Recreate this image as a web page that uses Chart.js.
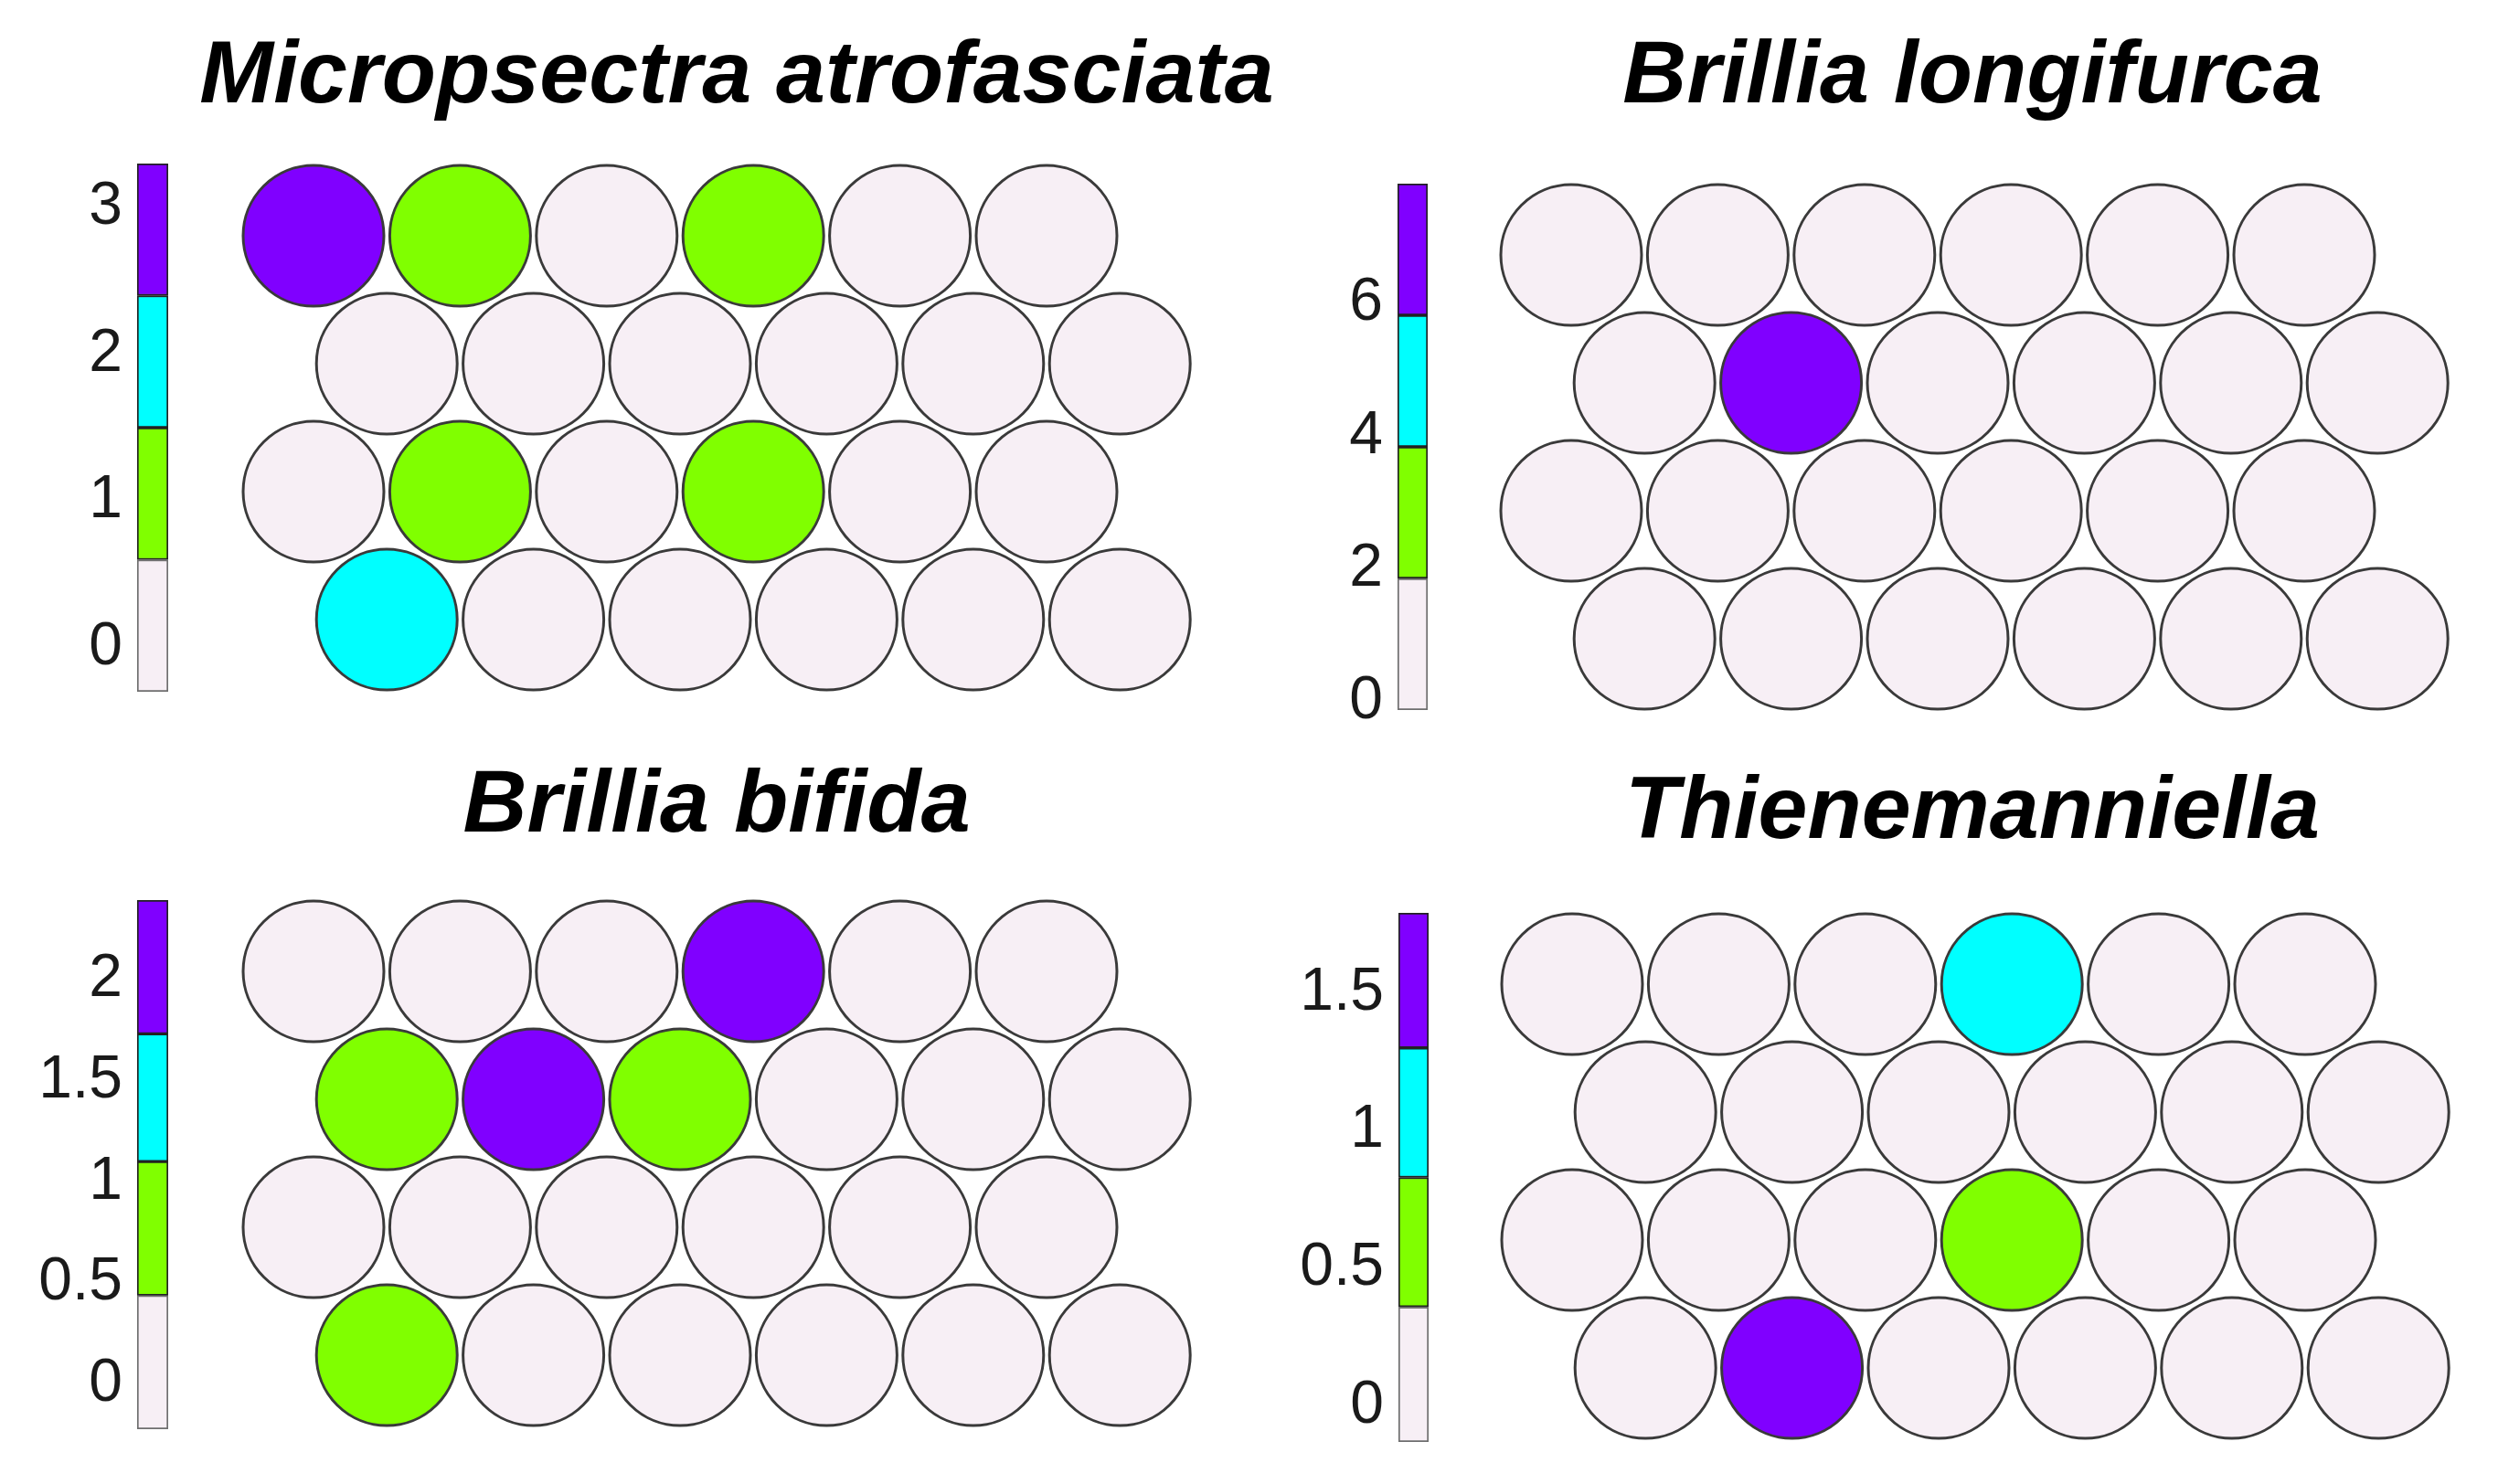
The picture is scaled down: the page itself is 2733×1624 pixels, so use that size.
<!DOCTYPE html>
<html>
<head>
<meta charset="utf-8">
<title>SOM hit maps</title>
<script src="https://cdn.jsdelivr.net/npm/chart.js@4.4.1/dist/chart.umd.min.js"></script>
<style>
  html, body { margin: 0; padding: 0; background: #ffffff; }
  #page { position: relative; width: 2733px; height: 1624px; overflow: hidden; background: #ffffff; }
  #page canvas { position: absolute; }
</style>
</head>
<body>
<div id="page"></div>
<script>
// species shown in the four panels
const categories = ['Micropsectra atrofasciata', 'Brillia longifurca', 'Brillia bifida', 'Thienemanniella'];

// hits per SOM unit, 6 columns x 4 rows, read row by row from the top
const atrofasciata    = [3, 1, 0, 1, 0, 0,   0, 0, 0, 0, 0, 0,   0, 1, 0, 1, 0, 0,   2, 0, 0, 0, 0, 0];
const longifurca      = [0, 0, 0, 0, 0, 0,   0, 7, 0, 0, 0, 0,   0, 0, 0, 0, 0, 0,   0, 0, 0, 0, 0, 0];
const bifida          = [0, 0, 0, 2, 0, 0,   1, 2, 1, 0, 0, 0,   0, 0, 0, 0, 0, 0,   1, 0, 0, 0, 0, 0];
const thienemanniella = [0, 0, 0, 1, 0, 0,   0, 0, 0, 0, 0, 0,   0, 0, 0, 0.5, 0, 0, 0, 1.5, 0, 0, 0, 0];

// colorbar limits and class edges (bottom to top)
const edgesAtro   = [-0.3, 0.6, 1.5, 2.4, 3.3];
const edgesLongi  = [-0.12, 1.86, 3.84, 5.82, 7.8];
const edgesBifida = [-0.22, 0.44, 1.1, 1.73, 2.39];
const edgesThien  = [-0.13, 0.36, 0.83, 1.3, 1.79];

// colorbar tick labels
const ticksAtro   = [0, 1, 2, 3];
const ticksLongi  = [0, 2, 4, 6];
const ticksBifida = [0, 0.5, 1, 1.5, 2];
const ticksThien  = [0, 0.5, 1, 1.5];

const classColors = ['#f7eff5', '#80ff00', '#00ffff', '#8000ff'];

const COLS = 6;
const DX = 160.4, DY = 140;          // px per unit on the map
const RADIUS = 77;
const TITLE_SIZE = 97;
const TITLE_SHIFT = 8;               // canvas 'middle' sits a bit above the cap centre
const TICK_SIZE = 66;
const AXIS_W = 112;
const BAR_PAD = 50;

const page = document.getElementById('page');

function makeCanvas(left, top, w, h) {
  const c = document.createElement('canvas');
  c.width = w; c.height = h;
  c.style.left = left + 'px'; c.style.top = top + 'px';
  c.style.width = w + 'px'; c.style.height = h + 'px';
  page.appendChild(c);
  return c;
}

function classOf(v, edges) {
  for (let i = 1; i < edges.length - 1; i++) {
    if (v < edges[i]) return i - 1;
  }
  return edges.length - 2;
}

function hitMap(name, hits, edges, lay) {
  const w = lay.w, h = lay.h;
  const left = lay.titleX - w / 2, top = lay.top;
  const padTop = lay.titleY + TITLE_SHIFT - top - TITLE_SIZE * 1.2 / 2;
  const areaTop = top + padTop + TITLE_SIZE * 1.2;
  const pts = hits.map((v, i) => {
    const row = Math.floor(i / COLS), col = i % COLS;
    return { x: col + (row % 2) * 0.5, y: row };
  });
  const fills = hits.map(v => classColors[classOf(v, edges)]);
  new Chart(makeCanvas(left, top, w, h), {
    type: 'scatter',
    data: {
      datasets: [{
        data: pts,
        pointRadius: RADIUS,
        pointHoverRadius: RADIUS,
        pointBackgroundColor: fills,
        pointBorderColor: '#3a3a3a',
        pointBorderWidth: 3,
        pointHoverBorderWidth: 3,
        clip: false
      }]
    },
    options: {
      responsive: false,
      animation: false,
      events: [],
      layout: { padding: 0, autoPadding: false },
      plugins: {
        legend: { display: false },
        tooltip: { enabled: false },
        title: {
          display: true,
          text: name,
          color: '#000000',
          padding: { top: padTop, bottom: 0 },
          font: { family: '"Liberation Sans", Arial, sans-serif', size: TITLE_SIZE, weight: 'bold', style: 'italic' }
        }
      },
      scales: {
        x: { display: false, min: (left - lay.x0) / DX, max: (left + w - lay.x0) / DX },
        y: { display: false, reverse: true, min: (areaTop - lay.y0) / DY, max: (top + h - lay.y0) / DY }
      }
    }
  });
}

function colorbar(edges, ticks, lay) {
  const w = AXIS_W + lay.bw;
  const left = lay.barX - AXIS_W;
  const top = lay.barTop - BAR_PAD;
  const h = lay.barBottom - lay.barTop + 2 * BAR_PAD;
  const datasets = classColors.map((col, i) => ({
    data: [[edges[i], edges[i + 1]]],
    backgroundColor: col,
    borderColor: i === 0 ? '#6e6e6e' : '#222222',
    borderWidth: 2,
    borderSkipped: false
  }));
  new Chart(makeCanvas(left, top, w, h), {
    type: 'bar',
    data: { labels: [''], datasets: datasets },
    options: {
      responsive: false,
      animation: false,
      events: [],
      layout: { padding: { top: BAR_PAD, bottom: BAR_PAD }, autoPadding: false },
      datasets: { bar: { grouped: false, barPercentage: 1, categoryPercentage: 1 } },
      plugins: { legend: { display: false }, tooltip: { enabled: false } },
      scales: {
        x: { display: false },
        y: {
          min: edges[0],
          max: edges[edges.length - 1],
          grid: { display: false },
          border: { display: false },
          afterBuildTicks: s => { s.ticks = ticks.map(v => ({ value: v })); },
          afterFit: s => { s.width = AXIS_W; s.paddingTop = 0; s.paddingBottom = 0; },
          ticks: {
            color: '#1a1a1a',
            padding: 8,
            callback: v => String(v),
            font: { family: '"Liberation Sans", Arial, sans-serif', size: TICK_SIZE }
          }
        }
      }
    }
  });
}

// panels: top-left, top-right, bottom-left, bottom-right
hitMap(categories[0], atrofasciata, edgesAtro,
  { titleX: 806, titleY: 77, top: 0, w: 1200, h: 800, x0: 343, y0: 258 });
hitMap(categories[1], longifurca, edgesLongi,
  { titleX: 2158, titleY: 77, top: 0, w: 1150, h: 800, x0: 1719, y0: 279 });
hitMap(categories[2], bifida, edgesBifida,
  { titleX: 784, titleY: 875, top: 790, w: 1200, h: 830, x0: 343, y0: 1063 });
hitMap(categories[3], thienemanniella, edgesThien,
  { titleX: 2158, titleY: 882, top: 790, w: 1150, h: 830, x0: 1720, y0: 1077 });

colorbar(edgesAtro, ticksAtro,     { barX: 150, bw: 34, barTop: 179, barBottom: 757 });
colorbar(edgesLongi, ticksLongi,   { barX: 1529, bw: 33, barTop: 201, barBottom: 777 });
colorbar(edgesBifida, ticksBifida, { barX: 150, bw: 34, barTop: 985, barBottom: 1564 });
colorbar(edgesThien, ticksThien,   { barX: 1530, bw: 33, barTop: 999, barBottom: 1578 });
</script>
</body>
</html>
